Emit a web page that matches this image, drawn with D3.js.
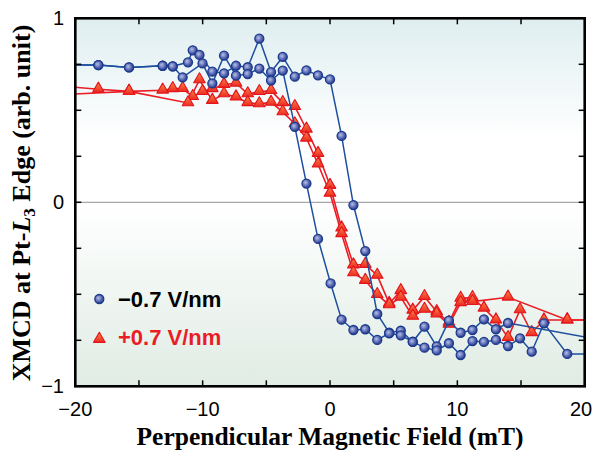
<!DOCTYPE html>
<html>
<head>
<meta charset="utf-8">
<script src="https://cdn.jsdelivr.net/npm/d3@7"></script>
<style>
  body { margin: 0; background: #fff; }
  svg { display: block; }
</style>
</head>
<body>
<svg id="chart" width="594" height="450"></svg>
<script>
// field values (mT) and XMCD values, one list per sweep branch
var blueUpX = [-22, -18.19, -15.78, -13.14, -12.35, -11.15, -10.78, -10.25, -9.24, -8.32, -7.38, -6.46, -5.55, -4.63, -3.71, -2.76, -1.85, -0.94, 0.0, 0.91, 1.84, 2.77, 3.71, 4.65, 5.56, 6.50, 7.42, 8.38, 9.34, 10.26, 11.19, 12.09, 13.03, 13.98, 22];
var blueUpY = [0.746, 0.746, 0.733, 0.742, 0.739, 0.761, 0.826, 0.801, 0.710, 0.701, 0.742, 0.734, 0.889, 0.708, 0.790, 0.683, 0.717, 0.690, 0.668, 0.361, -0.015, -0.265, -0.607, -0.709, -0.698, -0.758, -0.676, -0.783, -0.643, -0.709, -0.694, -0.636, -0.690, -0.656, -0.757];
var blueDownX = [-22, -18.19, -15.78, -13.14, -12.35, -11.57, -10.01, -9.24, -8.32, -7.38, -6.46, -5.55, -4.63, -3.71, -2.76, -1.85, -0.94, 0.05, 0.91, 1.84, 2.77, 3.71, 4.65, 5.56, 6.50, 7.42, 8.38, 9.34, 10.26, 11.19, 12.09, 13.03, 13.98, 14.92, 15.84, 16.80, 18.63, 22];
var blueDownY = [0.746, 0.746, 0.733, 0.742, 0.739, 0.679, 0.755, 0.646, 0.797, 0.688, 0.697, 0.727, 0.662, 0.716, 0.410, 0.102, -0.199, -0.441, -0.638, -0.694, -0.690, -0.748, -0.712, -0.723, -0.759, -0.790, -0.805, -0.766, -0.830, -0.754, -0.759, -0.748, -0.781, -0.739, -0.812, -0.658, -0.824, -0.824];

var redUpX = [-22, -18.19, -15.78, -13.14, -12.35, -11.57, -10.78, -10.01, -9.24, -8.32, -7.38, -6.46, -5.55, -4.63, -3.71, -2.76, -1.85, -0.94, 0.0, 0.91, 1.84, 2.77, 3.71, 4.65, 5.56, 6.50, 7.42, 8.38, 9.34, 10.26, 11.19, 12.09, 13.03, 13.98, 14.92, 15.84, 16.80, 18.63, 22];
var redUpY = [0.637, 0.614, 0.603, 0.609, 0.617, 0.618, 0.574, 0.601, 0.617, 0.640, 0.647, 0.589, 0.601, 0.607, 0.541, 0.520, 0.397, 0.265, 0.091, -0.140, -0.341, -0.338, -0.397, -0.550, -0.481, -0.587, -0.513, -0.595, -0.653, -0.522, -0.518, -0.576, -0.640, -0.736, -0.585, -0.709, -0.640, -0.640, -0.640];
var redDownX = [-22, -15.78, -11.15, -10.25, -9.24, -8.32, -7.38, -6.46, -5.55, -4.63, -3.71, -2.76, -1.85, -0.94, 0.0, 0.91, 1.84, 2.77, 3.71, 4.65, 5.56, 6.50, 7.42, 8.38, 9.34, 10.26, 11.19, 13.98, 18.63, 22];
var redDownY = [0.582, 0.603, 0.540, 0.665, 0.553, 0.589, 0.572, 0.541, 0.535, 0.543, 0.491, 0.426, 0.348, 0.207, 0.049, -0.171, -0.384, -0.425, -0.502, -0.558, -0.517, -0.620, -0.582, -0.607, -0.664, -0.546, -0.540, -0.516, -0.640, -0.640];

var xTicks = [-20, -15, -10, -5, 0, 5, 10, 15, 20];
var xLabels = [-20, -10, 0, 10, 20];
var yTicks = [-1, -0.75, -0.5, -0.25, 0, 0.25, 0.5, 0.75, 1];
var yLabels = [-1, 0, 1];
var legendLabels = ['\u22120.7 V/nm', '+0.7 V/nm'];

var W = 594, H = 450;
var plot = {left: 75.3, right: 584.7, top: 18.3, bottom: 386.3};
var BLUE = '#1d4f9e', RED = '#ea1d25';

var svg = d3.select('#chart');
var defs = svg.append('defs');

var bg = defs.append('linearGradient').attr('id', 'bg').attr('x1', 0).attr('y1', 0).attr('x2', 0).attr('y2', 1);
bg.append('stop').attr('offset', '0').attr('stop-color', '#dfeef0');
bg.append('stop').attr('offset', '0.33').attr('stop-color', '#ffffff');
bg.append('stop').attr('offset', '0.5').attr('stop-color', '#ffffff');
bg.append('stop').attr('offset', '1').attr('stop-color', '#e0ece4');

var ball = defs.append('radialGradient').attr('id', 'ball').attr('cx', '0.4').attr('cy', '0.4').attr('r', '0.6');
ball.append('stop').attr('offset', '0').attr('stop-color', '#b7c0e6');
ball.append('stop').attr('offset', '0.6').attr('stop-color', '#5b6bb5');
ball.append('stop').attr('offset', '1').attr('stop-color', '#2b3c8f');

var tri = defs.append('linearGradient').attr('id', 'tri').attr('x1', 0).attr('y1', 0).attr('x2', 0).attr('y2', 1);
tri.append('stop').attr('offset', '0').attr('stop-color', '#f8884a');
tri.append('stop').attr('offset', '1').attr('stop-color', '#ec2a20');

defs.append('clipPath').attr('id', 'clip').append('rect')
    .attr('x', plot.left).attr('y', plot.top)
    .attr('width', plot.right - plot.left).attr('height', plot.bottom - plot.top);

var x = d3.scaleLinear().domain([-20, 20]).range([plot.left, plot.right]);
var y = d3.scaleLinear().domain([-1, 1]).range([plot.bottom, plot.top]);

svg.append('rect')
    .attr('x', plot.left).attr('y', plot.top)
    .attr('width', plot.right - plot.left).attr('height', plot.bottom - plot.top)
    .attr('fill', 'url(#bg)');

svg.append('line')
    .attr('x1', plot.left).attr('x2', plot.right)
    .attr('y1', y(0)).attr('y2', y(0))
    .attr('stroke', '#a8a8a8').attr('stroke-width', 1.2);

function zipPts(xs, ys) {
    return xs.map(function (v, i) { return [v, ys[i]]; });
}

var series = [
    {pts: zipPts(redUpX, redUpY), color: RED, shape: 'tri'},
    {pts: zipPts(redDownX, redDownY), color: RED, shape: 'tri'},
    {pts: zipPts(blueUpX, blueUpY), color: BLUE, shape: 'ball'},
    {pts: zipPts(blueDownX, blueDownY), color: BLUE, shape: 'ball'}
];

var dataG = svg.append('g').attr('clip-path', 'url(#clip)');
var line = d3.line().x(function (d) { return x(d[0]); }).y(function (d) { return y(d[1]); });

var triPath = d3.symbol().type(d3.symbolTriangle).size(58);

function drawMarker(g, shape, px, py) {
    if (shape === 'ball') {
        g.append('circle').attr('cx', px).attr('cy', py).attr('r', 4.5)
            .attr('fill', 'url(#ball)').attr('stroke', '#1c3a8c').attr('stroke-width', 1.3);
    } else {
        g.append('path').attr('d', triPath()).attr('transform', 'translate(' + px + ',' + (py - 0.5) + ')')
            .attr('fill', 'url(#tri)').attr('stroke', '#e3141c').attr('stroke-width', 1.1)
            .attr('stroke-linejoin', 'round');
    }
}

// red first, blue on top
[0, 1].forEach(function (i) {
    dataG.append('path').datum(series[i].pts).attr('d', line)
        .attr('fill', 'none').attr('stroke', series[i].color).attr('stroke-width', 1.6);
});
[0, 1].forEach(function (i) {
    series[i].pts.forEach(function (d) { drawMarker(dataG, series[i].shape, x(d[0]), y(d[1])); });
});
[2, 3].forEach(function (i) {
    dataG.append('path').datum(series[i].pts).attr('d', line)
        .attr('fill', 'none').attr('stroke', series[i].color).attr('stroke-width', 1.5);
});
[2, 3].forEach(function (i) {
    series[i].pts.forEach(function (d) { drawMarker(dataG, series[i].shape, x(d[0]), y(d[1])); });
});

// inward ticks on all four sides
var fmt = function (v) { return v < 0 ? '\u2212' + Math.abs(v) : '' + v; };
var axG = svg.append('g');
var tickLen = 6;
xTicks.forEach(function (t) {
    axG.append('line').attr('x1', x(t)).attr('x2', x(t)).attr('y1', plot.bottom).attr('y2', plot.bottom - tickLen)
        .attr('stroke', '#000').attr('stroke-width', 1.5);
    axG.append('line').attr('x1', x(t)).attr('x2', x(t)).attr('y1', plot.top).attr('y2', plot.top + tickLen)
        .attr('stroke', '#000').attr('stroke-width', 1.5);
});
yTicks.forEach(function (t) {
    axG.append('line').attr('x1', plot.left).attr('x2', plot.left + tickLen).attr('y1', y(t)).attr('y2', y(t))
        .attr('stroke', '#000').attr('stroke-width', 1.5);
    axG.append('line').attr('x1', plot.right).attr('x2', plot.right - tickLen).attr('y1', y(t)).attr('y2', y(t))
        .attr('stroke', '#000').attr('stroke-width', 1.5);
});
axG.append('rect')
    .attr('x', plot.left).attr('y', plot.top)
    .attr('width', plot.right - plot.left).attr('height', plot.bottom - plot.top)
    .attr('fill', 'none').attr('stroke', '#000').attr('stroke-width', 2.6);

var sans = "'Liberation Sans', Arial, Helvetica, sans-serif";
var serif = "'Liberation Serif', 'Times New Roman', serif";

xLabels.forEach(function (t) {
    // keep the last label inside the page
    axG.append('text').attr('x', Math.min(x(t), W - 13)).attr('y', 416)
        .attr('text-anchor', 'middle').attr('font-family', sans).attr('font-size', 20)
        .text(fmt(t));
});
yLabels.forEach(function (t) {
    axG.append('text').attr('x', 64).attr('y', y(t) + 7)
        .attr('text-anchor', 'end').attr('font-family', sans).attr('font-size', 20)
        .text(fmt(t));
});

svg.append('text').attr('x', 330).attr('y', 445)
    .attr('text-anchor', 'middle').attr('font-family', serif).attr('font-weight', 'bold').attr('font-size', 25.5)
    .text('Perpendicular Magnetic Field (mT)');

var yt = svg.append('text').attr('transform', 'translate(30,203) rotate(-90)')
    .attr('text-anchor', 'middle').attr('font-family', serif).attr('font-weight', 'bold').attr('font-size', 26);
yt.append('tspan').text('XMCD at Pt-');
yt.append('tspan').attr('font-style', 'italic').text('L');
yt.append('tspan').attr('font-size', 17).attr('dy', 5).text('3');
yt.append('tspan').attr('dy', -5).text(' Edge (arb. unit)');

// legend
var lg = svg.append('g');
drawMarker(lg, 'ball', 99.3, 299);
drawMarker(lg, 'tri', 99.3, 339.5);
lg.append('text').attr('x', 118).attr('y', 307)
    .attr('font-family', sans).attr('font-weight', 'bold').attr('font-size', 22).attr('fill', '#000')
    .text(legendLabels[0]);
lg.append('text').attr('x', 118).attr('y', 345)
    .attr('font-family', sans).attr('font-weight', 'bold').attr('font-size', 22).attr('fill', RED)
    .text(legendLabels[1]);
</script>
</body>
</html>
